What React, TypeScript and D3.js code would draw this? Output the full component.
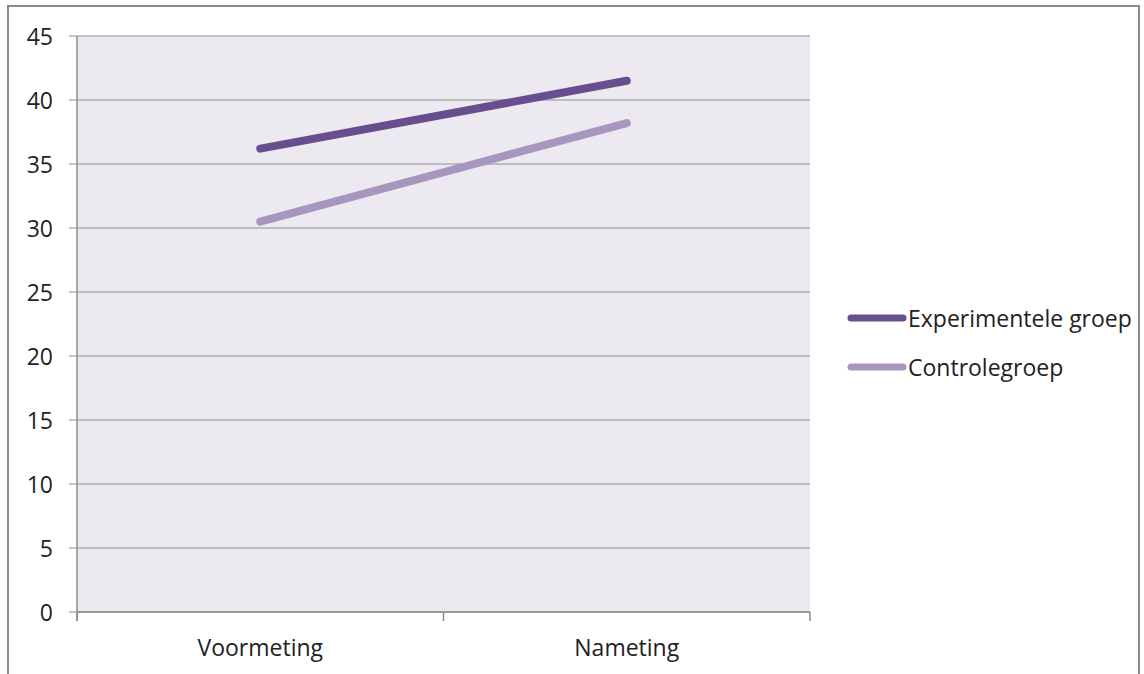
import React from "react";
import * as d3 from "d3";

const categories = ["Voormeting", "Nameting"];
const seriesNames = ["Experimentele groep", "Controlegroep"];
const experimentele = [36.2, 41.5];
const controle = [30.5, 38.2];
const yTicks = [0, 5, 10, 15, 20, 25, 30, 35, 40, 45];
const colors = ["#674E8E", "#A797C0"];

const W = 1144, H = 674;
const plot = { left: 77, right: 810, top: 36, bottom: 612 };
const font = "'Open Sans', 'Noto Sans', sans-serif";

export default function App() {
  const y = d3.scaleLinear().domain([0, 45]).range([plot.bottom, plot.top]);
  const x = d3.scaleBand().domain(categories).range([plot.left, plot.right]);
  const cx = (c: string) => (x(c) as number) + x.bandwidth() / 2;
  const line = d3.line<number>().x((_, i) => cx(categories[i])).y((v) => y(v));
  const series = [experimentele, controle];
  const catEdges = [plot.left, ...categories.map((c) => (x(c) as number) + x.bandwidth())];

  return (
    <svg width={W} height={H} style={{ position: "absolute", left: 0, top: 0, background: "#fff" }} fontFamily={font}>
      <rect x={8} y={6} width={1131} height={720} fill="#fff" stroke="#8a8a8a" strokeWidth={2} />
      <rect x={plot.left} y={plot.top} width={plot.right - plot.left} height={plot.bottom - plot.top} fill="#ECEAF0" />
      {yTicks.map((t) => (
        <g key={t}>
          <line x1={plot.left - 8} x2={plot.right} y1={y(t)} y2={y(t)} stroke="#8c8c8c" strokeWidth={1} />
          <text x={53} y={y(t)} textAnchor="end" dominantBaseline="central" fontSize={23} fill="#222">{t}</text>
        </g>
      ))}
      <line x1={plot.left} x2={plot.left} y1={plot.top} y2={plot.bottom + 9} stroke="#8c8c8c" strokeWidth={1.5} />
      <line x1={plot.left} x2={plot.right} y1={plot.bottom} y2={plot.bottom} stroke="#8c8c8c" strokeWidth={1.5} />
      {catEdges.map((e, i) => (
        <line key={i} x1={e} x2={e} y1={plot.bottom} y2={plot.bottom + 9} stroke="#8c8c8c" strokeWidth={1.5} />
      ))}
      {categories.map((c) => (
        <text key={c} x={cx(c)} y={647} textAnchor="middle" dominantBaseline="central" fontSize={23} fill="#222">{c}</text>
      ))}
      {series.map((s, i) => (
        <path key={i} d={line(s) as string} fill="none" stroke={colors[i]} strokeWidth={8} strokeLinecap="round" />
      ))}
      {seriesNames.map((n, i) => (
        <g key={n} transform={`translate(0, ${318 + i * 49})`}>
          <line x1={851} x2={903} y1={0} y2={0} stroke={colors[i]} strokeWidth={7} strokeLinecap="round" />
          <text x={908} y={0} dominantBaseline="central" fontSize={23} fill="#222">{n}</text>
        </g>
      ))}
    </svg>
  );
}
